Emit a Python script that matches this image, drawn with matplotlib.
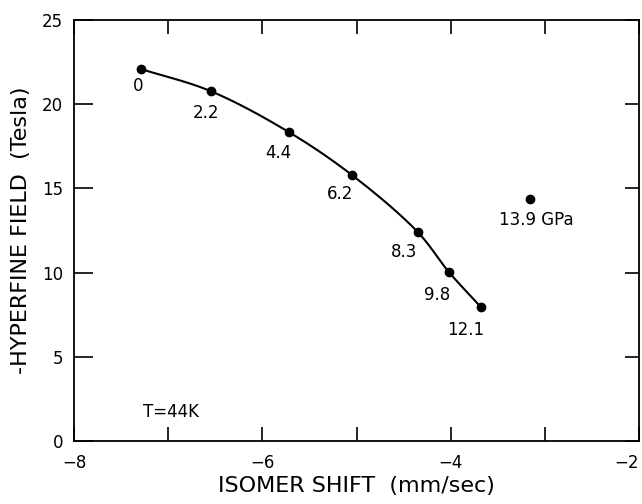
import numpy as np
import matplotlib
matplotlib.use("Agg")
import matplotlib.pyplot as plt

# Data
isomer_shift = [-7.29, -6.55, -5.72, -5.05, -4.35, -4.02, -3.68]
hyperfine_field = [22.09, 20.78, 18.35, 15.80, 12.41, 10.04, 7.96]
pressure_labels = ["0", "2.2", "4.4", "6.2", "8.3", "9.8", "12.1"]
extra_shift = [-3.16]
extra_field = [14.37]
extra_label = ["13.9 GPa"]
x_ticks = [-8, -7, -6, -5, -4, -3, -2]
x_tick_labels = ["\u22128", "", "\u22126", "", "\u22124", "", "\u22122"]
y_ticks = [0, 5, 10, 15, 20, 25]

# label offsets in pixels (dx, dy) relative to each point
label_offsets_px = [(-3, -16), (-5, -21), (-10, -20), (-12, -18),
                    (-14, -19), (-12, -22), (-15, -22)]

plt.rcParams['font.family'] = ['DejaVu Sans']

fig = plt.figure(figsize=(6.42, 5.04), dpi=100)
ax = fig.add_axes([74/642, 1-441/504, (639-74)/642, (441-20)/504])

XS, YS = 94.17, 16.84  # scale factors so the smoothing works in screen-like units


def centripetal_cr(xs, ys, n=40, alpha=0.5):
    P = np.column_stack([np.asarray(xs, float) * XS, np.asarray(ys, float) * YS])
    P = np.vstack([2*P[0]-P[1], P, 2*P[-1]-P[-2]])
    out = []
    for i in range(1, len(P)-2):
        p0, p1, p2, p3 = P[i-1], P[i], P[i+1], P[i+2]
        t0 = 0.0
        t1 = t0 + np.linalg.norm(p1-p0)**alpha
        t2 = t1 + np.linalg.norm(p2-p1)**alpha
        t3 = t2 + np.linalg.norm(p3-p2)**alpha
        t = np.linspace(t1, t2, n)[:, None]
        A1 = (t1-t)/(t1-t0)*p0 + (t-t0)/(t1-t0)*p1
        A2 = (t2-t)/(t2-t1)*p1 + (t-t1)/(t2-t1)*p2
        A3 = (t3-t)/(t3-t2)*p2 + (t-t2)/(t3-t2)*p3
        B1 = (t2-t)/(t2-t0)*A1 + (t-t0)/(t2-t0)*A2
        B2 = (t3-t)/(t3-t1)*A2 + (t-t1)/(t3-t1)*A3
        C = (t2-t)/(t2-t1)*B1 + (t-t1)/(t2-t1)*B2
        out.append(C if i == 1 else C[1:])
    out = np.vstack(out)
    return out[:, 0] / XS, out[:, 1] / YS

cx, cy = centripetal_cr(isomer_shift, hyperfine_field)
ax.plot(cx, cy, color='black', lw=1.5, solid_capstyle='round')
ax.plot(isomer_shift, hyperfine_field, 'o', color='black', ms=6)
ax.plot(extra_shift, extra_field, 'o', color='black', ms=6)

fs = 12
for x, y, lab, (dx, dy) in zip(isomer_shift, hyperfine_field, pressure_labels, label_offsets_px):
    ax.annotate(lab, (x, y), xytext=(dx*0.72, (dy-1)*0.72), textcoords='offset points',
                ha='center', va='center', fontsize=fs)
ax.annotate(extra_label[0], (extra_shift[0], extra_field[0]), xytext=(7*0.72, -21*0.72),
            textcoords='offset points', ha='center', va='center', fontsize=fs)
ax.text(-6.97, 1.72, "T=44K", ha='center', va='center', fontsize=12)

ax.set_xlim(-8, -2)
ax.set_ylim(0, 25)
ax.set_xticks(x_ticks)
ax.set_xticklabels(x_tick_labels)
ax.set_yticks(y_ticks)
ax.tick_params(direction='in', top=True, right=True, length=10, width=1.2,
               labelsize=12)
ax.tick_params(axis='x', pad=9)
ax.tick_params(axis='y', pad=8)
for t in ax.yaxis.get_major_ticks():
    t.tick1line.set_markersize(14)
ax.get_xticklabels()[-1].set_horizontalalignment('right')
for s in ax.spines.values():
    s.set_linewidth(1.3)

ax.set_xlabel("ISOMER SHIFT  (mm/sec)", fontsize=16, labelpad=3)
ax.set_ylabel("-HYPERFINE FIELD  (Tesla)", fontsize=16, labelpad=8)

fig.savefig("out.png", dpi=100)
